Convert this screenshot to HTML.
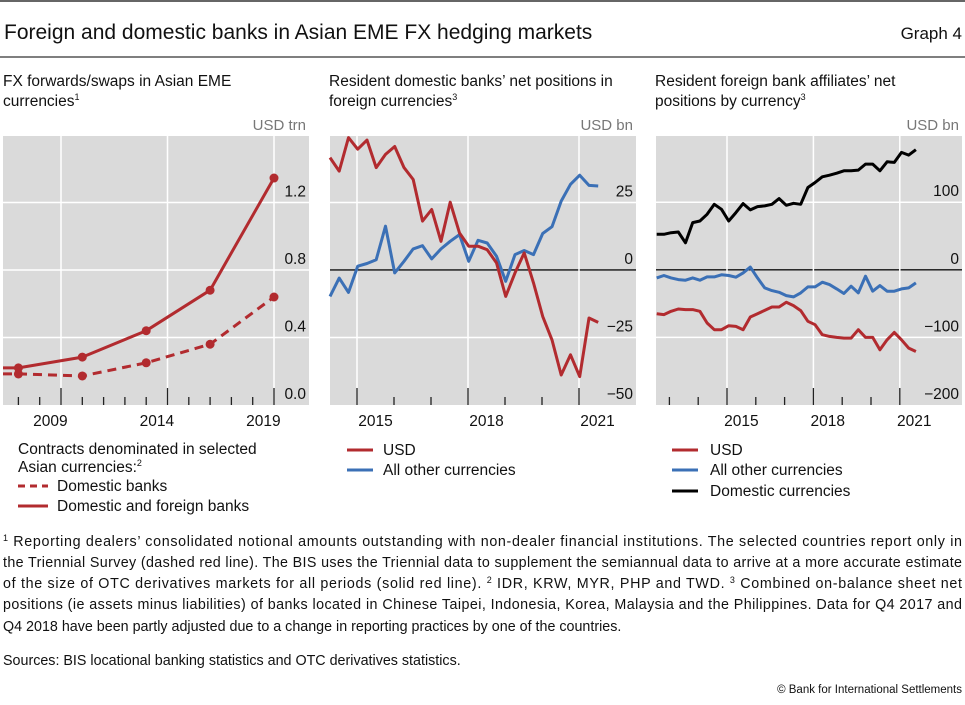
<!DOCTYPE html>
<html><head><meta charset="utf-8"><style>
html,body{margin:0;padding:0;background:#fff;}
svg{display:block;font-family:"Liberation Sans",sans-serif;}
</style></head><body>
<svg id="root" width="965" height="705" viewBox="0 0 965 705">
<line x1="0" y1="1" x2="965" y2="1" stroke="#333" stroke-width="1.5"/>
<text x="4" y="39" font-size="21" fill="#111">Foreign and domestic banks in Asian EME FX hedging markets</text>
<text x="962" y="39" font-size="17" fill="#111" text-anchor="end">Graph 4</text>
<line x1="0" y1="57" x2="965" y2="57" stroke="#333" stroke-width="1.2"/>

<text x="3" y="86" font-size="15.5" fill="#111">FX forwards/swaps in Asian EME</text>
<text x="3" y="106" font-size="15.5" fill="#111">currencies<tspan font-size="9" dy="-6">1</tspan></text>
<text x="329" y="86" font-size="15.5" fill="#111">Resident domestic banks’ net positions in</text>
<text x="329" y="106" font-size="15.5" fill="#111">foreign currencies<tspan font-size="9" dy="-6">3</tspan></text>
<text x="655" y="86" font-size="15.5" fill="#111">Resident foreign bank affiliates’ net</text>
<text x="655" y="106" font-size="15.5" fill="#111">positions by currency<tspan font-size="9" dy="-6">3</tspan></text>

<g id="p1"></g>
<g id="p2"></g>
<g id="p3"></g>

<g font-size="15.5" fill="#111">
<text x="18" y="454">Contracts denominated in selected</text>
<text x="18" y="472">Asian currencies:<tspan font-size="9" dy="-6">2</tspan></text>
<line x1="18" y1="486" x2="48" y2="486" stroke="#b22b2f" stroke-width="3" stroke-dasharray="7,5"/>
<text x="57" y="491">Domestic banks</text>
<line x1="18" y1="506" x2="48" y2="506" stroke="#b22b2f" stroke-width="3"/>
<text x="57" y="511">Domestic and foreign banks</text>
</g>
<g font-size="15.5" fill="#111">
<line x1="347" y1="450" x2="373" y2="450" stroke="#b22b2f" stroke-width="3"/>
<text x="383" y="455">USD</text>
<line x1="347" y1="470" x2="373" y2="470" stroke="#3b70b6" stroke-width="3"/>
<text x="383" y="475">All other currencies</text>
</g>
<g font-size="15.5" fill="#111">
<line x1="672" y1="450" x2="698" y2="450" stroke="#b22b2f" stroke-width="3"/>
<text x="710" y="455">USD</text>
<line x1="672" y1="470" x2="698" y2="470" stroke="#3b70b6" stroke-width="3"/>
<text x="710" y="475">All other currencies</text>
<line x1="672" y1="491" x2="698" y2="491" stroke="#000" stroke-width="3"/>
<text x="710" y="496">Domestic currencies</text>
</g>

<g font-size="14.3" fill="#111">
<text x="3" y="546" textLength="959" lengthAdjust="spacing"><tspan font-size="9" dy="-5">1</tspan><tspan dy="5"> Reporting dealers’ consolidated notional amounts outstanding with non-dealer financial institutions. The selected countries report only in</tspan></text>
<text x="3" y="567" textLength="959" lengthAdjust="spacing">the Triennial Survey (dashed red line). The BIS uses the Triennial data to supplement the semiannual data to arrive at a more accurate estimate</text>
<text x="3" y="588" textLength="959" lengthAdjust="spacing">of the size of OTC derivatives markets for all periods (solid red line).    <tspan font-size="9" dy="-5">2</tspan><tspan dy="5"> IDR, KRW, MYR, PHP and TWD.    </tspan><tspan font-size="9" dy="-5">3</tspan><tspan dy="5"> Combined on-balance sheet net</tspan></text>
<text x="3" y="609" textLength="959" lengthAdjust="spacing">positions (ie assets minus liabilities) of banks located in Chinese Taipei, Indonesia, Korea, Malaysia and the Philippines. Data for Q4 2017 and</text>
<text x="3" y="631">Q4 2018 have been partly adjusted due to a change in reporting practices by one of the countries.</text>
<text x="3" y="665">Sources: BIS locational banking statistics and OTC derivatives statistics.</text>
<text x="962" y="693" font-size="11.5" text-anchor="end">© Bank for International Settlements</text>
</g>
</svg>
<script>
// Panel 1 data (USD trn), triennial dates
const p1Dates = [2008.0, 2011.0, 2014.0, 2017.0, 2020.0];
const p1Total = [0.22, 0.284, 0.44, 0.68, 1.345];
const p1Domestic = [0.184, 0.172, 0.25, 0.36, 0.64];
const p1Ticks = [0, 0.4, 0.8, 1.2];
const p1TickLabels = ["0.0", "0.4", "0.8", "1.2"];
const p1YearLabels = ["2009", "2014", "2019"];

// Panel 2 data (USD bn), quarterly from 2014 Q2
const p2Start = 2014.27;
const p2Usd = [41.6,36.6,49,44.7,48.1,37.9,42.8,45.7,37.9,33.5,18.1,22.4,10.6,25.1,13.7,8.8,8.8,7.5,2.6,-9.8,-1.1,6.3,-4.8,-17.2,-25.9,-38.9,-31.4,-39.5,-17.8,-19.4];
const p2Other = [-9.8,-3,-8.3,1.4,2.4,3.8,16.2,-1.1,3.2,7.8,9,4.1,7.8,10.6,13.1,3.2,11,10,5.1,-4.2,5.7,7.2,5.7,13.5,16,25.5,31.7,35.1,31.3,31.1];
const p2Ticks = [-50, -25, 0, 25];
const p2TickLabels = ["−50", "−25", "0", "25"];
const p2YearLabels = ["2015", "2018", "2021"];

// Panel 3 data (USD bn), quarterly from 2012 Q3
const p3Start = 2012.56;
const p3Domestic = [52.5,52.5,55,56,40,69.8,72.3,82.2,97,89.6,72.3,84.7,98,88.6,93.6,94.6,97,105.4,95.5,98.5,97,121.8,129.2,137.6,140,143,146.5,146.5,147.5,156.4,156.4,146.5,159.9,158.9,173.8,169.8,177.7];
const p3Other = [-11.9,-8.4,-11.9,-14.4,-15.3,-11.9,-15.3,-10.4,-10.4,-7.4,-8.4,-10.9,-4.5,4,-11.9,-26.7,-30.7,-33.2,-38.1,-40.1,-34.2,-25.2,-25.2,-18.3,-21.8,-28.2,-35.1,-24.3,-34.2,-9.4,-31.7,-23.3,-31.7,-31.7,-28.2,-26.7,-19.3];
const p3Usd = [-64.9,-66.3,-61.4,-57.9,-58.9,-58.9,-61.4,-78.7,-88.6,-88.6,-82.7,-83.7,-88.6,-69.8,-64.9,-60,-55,-55,-48,-53,-60.4,-76.2,-81.2,-96,-98.5,-100,-101,-101,-88.6,-100,-100,-118.3,-103.5,-92.6,-103.5,-115.8,-120.8];
const p3Ticks = [-200, -100, 0, 100];
const p3TickLabels = ["−200", "−100", "0", "100"];
const p3YearLabels = ["2015", "2018", "2021"];

const NS = "http://www.w3.org/2000/svg";
const RED = "#b22b2f", BLUE = "#3b70b6";
function mk(parent, tag, attrs) {
  const e = document.createElementNS(NS, tag);
  for (const k in attrs) e.setAttribute(k, attrs[k]);
  parent.appendChild(e);
  return e;
}
function panel(g, o) {
  const yOf = v => o.y1 - (v - o.vmin) / (o.vmax - o.vmin) * (o.y1 - o.y0);
  const bg = mk(g, "rect", {x:o.x0, y:o.y0, width:o.x1-o.x0, height:o.y1-o.y0, fill:"#dadada"});
  
  
  o.ticks.forEach((t, i) => {
    const y = yOf(t);
    if (t !== o.vmin) {
      const gl = mk(g, "line", {x1:o.x0, x2:o.x1, y1:y, y2:y, stroke: t===0 && o.zero ? "#111" : "#fff", "stroke-width": t===0 && o.zero ? 1.3 : 1.5});
      
      
    }
    const lb = mk(g, "text", {x:o.x1-3, y:y-6, "font-size":15.5, fill:"#111", "text-anchor":"end"});
    lb.textContent = o.tickLabels[i];
    
    
  });
  o.majors.forEach((yr, i) => {
    const x = o.xOf(yr);
    const vl = mk(g, "line", {x1:x, x2:x, y1:o.y0, y2:o.y1, stroke:"#fff", "stroke-width":1.5});
    
    
    const tk = mk(g, "line", {x1:x, x2:x, y1:o.y1-17, y2:o.y1, stroke:"#222", "stroke-width":1.3});
    
    
    const lb = mk(g, "text", {x:o.xOf(yr + o.labelOff), y:426, "font-size":15.5, fill:"#111", "text-anchor":"middle"});
    lb.textContent = o.yearLabels[i];
    
    
  });
  o.minors.forEach(yr => {
    const x = o.xOf(yr);
    const tk = mk(g, "line", {x1:x, x2:x, y1:o.y1-8, y2:o.y1, stroke:"#222", "stroke-width":1.3});
    
    
  });
  const u = mk(g, "text", {x:o.x1-3, y:o.y0-6, "font-size":15, fill:"#777", "text-anchor":"end"});
  u.textContent = o.unit;
  
  
  return yOf;
}
function series(g, xs, vals, yOf, color, name, dash) {
  const pts = vals.map((v, i) => xs[i].toFixed(1) + "," + yOf(v).toFixed(1)).join(" ");
  const pl = mk(g, "polyline", {points:pts, fill:"none", stroke:color, "stroke-width":3, "stroke-linejoin":"round"});
  if (dash) pl.setAttribute("stroke-dasharray", dash);
  
  
  return pl;
}

// Panel 1
(function(){
  const g = document.getElementById("p1");
  const xOf = yr => 61 + (yr - 2010) * 21.3;
  const yOf = panel(g, {x0:3, x1:309, y0:136, y1:405, vmin:0, vmax:1.594, xOf, labelOff:-0.5,
    majors:[2010,2015,2020], minors:[2008,2009,2011,2012,2013,2014,2016,2017,2018,2019],
    ticks:p1Ticks, tickLabels:p1TickLabels, yearLabels:p1YearLabels, unit:"USD trn", zero:false});
  const xs = [3].concat(p1Dates.map(xOf));
  series(g, xs, [p1Total[0]].concat(p1Total), yOf, RED, "series-domestic-foreign-banks");
  series(g, xs, [p1Domestic[0]].concat(p1Domestic), yOf, RED, "series-domestic-banks", "9,6");
  p1Dates.forEach((d, i) => {
    const c1 = mk(g, "circle", {cx:xOf(d), cy:yOf(p1Total[i]), r:4.5, fill:RED});
    
    
    const c2 = mk(g, "circle", {cx:xOf(d), cy:yOf(p1Domestic[i]), r:4.5, fill:RED});
    
    
  });
})();

// Panel 2
(function(){
  const g = document.getElementById("p2");
  const xOf = yr => 357 + (yr - 2015) * 37;
  const yOf = panel(g, {x0:330, x1:636, y0:136, y1:405, vmin:-50, vmax:49.6, xOf, labelOff:0.5,
    majors:[2015,2018,2021], minors:[2016,2017,2019,2020],
    ticks:p2Ticks, tickLabels:p2TickLabels, yearLabels:p2YearLabels, unit:"USD bn", zero:true});
  const xsU = p2Usd.map((v, i) => xOf(p2Start + i * 0.25));
  const xsO = p2Other.map((v, i) => xOf(p2Start + i * 0.25));
  series(g, xsO, p2Other, yOf, BLUE, "series-other-currencies");
  series(g, xsU, p2Usd, yOf, RED, "series-usd");
})();

// Panel 3
(function(){
  const g = document.getElementById("p3");
  const xOf = yr => 727 + (yr - 2015) * 28.8;
  const yOf = panel(g, {x0:656, x1:962, y0:136, y1:405, vmin:-200, vmax:198, xOf, labelOff:0.5,
    majors:[2015,2018,2021], minors:[2013,2014,2016,2017,2019,2020],
    ticks:p3Ticks, tickLabels:p3TickLabels, yearLabels:p3YearLabels, unit:"USD bn", zero:true});
  const xsD = p3Domestic.map((v, i) => xOf(p3Start + i * 0.25));
  const xsO = p3Other.map((v, i) => xOf(p3Start + i * 0.25));
  const xsU = p3Usd.map((v, i) => xOf(p3Start + i * 0.25));
  series(g, xsU, p3Usd, yOf, RED, "series-usd-3");
  series(g, xsO, p3Other, yOf, BLUE, "series-other-currencies-3");
  series(g, xsD, p3Domestic, yOf, "#000", "series-domestic-currencies");
})();
</script>
</body></html>
